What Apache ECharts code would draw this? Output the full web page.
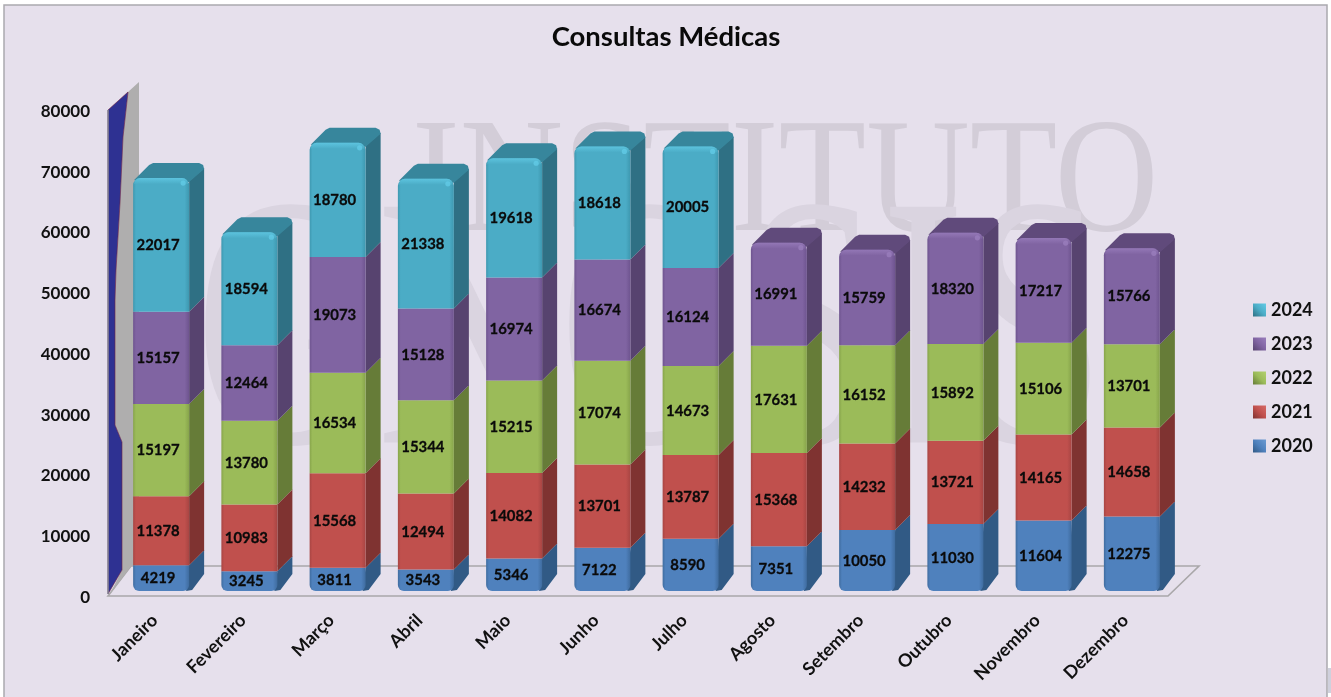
<!DOCTYPE html>
<html><head><meta charset="utf-8">
<style>html,body{margin:0;padding:0;background:#fff}#c{width:1331px;height:697px}</style>
<script src="https://cdn.jsdelivr.net/npm/echarts@6/dist/echarts.min.js"></script>
</head><body><div id="c"></div>
<script>
const months = ['Janeiro','Fevereiro','Março','Abril','Maio','Junho','Julho','Agosto','Setembro','Outubro','Novembro','Dezembro'];
const v2020 = [4219,3245,3811,3543,5346,7122,8590,7351,10050,11030,11604,12275];
const v2021 = [11378,10983,15568,12494,14082,13701,13787,15368,14232,13721,14165,14658];
const v2022 = [15197,13780,16534,15344,15215,17074,14673,17631,16152,15892,15106,13701];
const v2023 = [15157,12464,19073,15128,16974,16674,16124,16991,15759,18320,17217,15766];
const v2024 = [22017,18594,18780,21338,19618,18618,20005,null,null,null,null,null];
const yearNames = ['2020','2021','2022','2023','2024'];
const yearValues = [v2020,v2021,v2022,v2023,v2024];
const palette = [
  {front:'#4F81BD',dark:'#3F6C9F',side:'#315A85',top:'#3A6A9C',light:'#6C9BD2'},
  {front:'#C0504D',dark:'#A84543',side:'#7F3331',top:'#953B39',light:'#D66B68'},
  {front:'#9BBB59',dark:'#87A44B',side:'#667C38',top:'#76923C',light:'#B3D16F'},
  {front:'#8064A2',dark:'#6E548F',side:'#57436F',top:'#604A7B',light:'#9A7EBD'},
  {front:'#4BACC6',dark:'#3E98B0',side:'#2F7084',top:'#37869C',light:'#62CBE6'}
];
const DEPTH = 15, FRONT_W = 56;
const chart = echarts.init(document.getElementById('c'), null, {renderer:'canvas'});
const FONT = 'Lato, Carlito, "Open Sans", sans-serif';

function makeSeries(si){
  const data = months.map((m,i)=>{
    const v = yearValues[si][i];
    if (v == null) return [i,null,null,null,0];
    let base = 0;
    for (let k=0;k<si;k++) base += yearValues[k][i] || 0;
    const isTop = si === yearValues.length-1 || yearValues[si+1][i] == null;
    return [i,base,base+v,v,isTop?1:0];
  });
  const c = palette[si];
  return {
    type:'custom', name:yearNames[si], data, clip:false, silent:true,
    itemStyle:{color:c.front},
    encode:{x:0,y:[1,2]},
    z:5+si,
    renderItem(params,api){
      if (api.value(3) == null || isNaN(api.value(3))) return null;
      const p0 = api.coord([api.value(0),api.value(1)]);
      const p1 = api.coord([api.value(0),api.value(2)]);
      const isTop = api.value(4) === 1, isBottom = si === 0;
      const x = p0[0]-FRONT_W/2, r = x+FRONT_W, yb = p0[1], yt = p1[1], d = DEPTH;
      const ch = [];
      const sidePts = isBottom
        ? [[r,yt],[r+d,yt-d],[r+d,yb-d-2],[r+3,yb-1],[r-3,yb]]
        : [[r,yt],[r+d,yt-d],[r+d,yb-d],[r,yb]];
      if (isTop) { sidePts[0]=[r,yt+3]; sidePts[1]=[r+d,yt-d+5]; }
      ch.push({type:'polygon',shape:{points:sidePts},style:{fill:c.side}});
      if (isTop) {
        ch.push({type:'polygon',shape:{points:[[x+1,yt+2],[x+d+1,yt-d+2],[x+d+5,yt-d],[r+d-5,yt-d],[r+d-1,yt-d+2],[r+d,yt-d+6],[r,yt+4]]},style:{fill:c.top}});
      }
      ch.push({type:'rect',shape:{x,y:yt,width:FRONT_W,height:yb-yt,r:[isTop?7:0,isTop?7:0,isBottom?6:0,isBottom?6:0]},
        style:{fill:new echarts.graphic.LinearGradient(0,0,1,0,[
          {offset:0,color:c.dark},{offset:0.05,color:c.front},{offset:0.92,color:c.front},{offset:1,color:c.dark}])}});
      if (isTop) {
        ch.push({type:'rect',shape:{x:x+1,y:yt,width:FRONT_W-2,height:6,r:[6,6,0,0]},
          style:{opacity:.75,fill:new echarts.graphic.LinearGradient(0,0,0,1,[{offset:0,color:c.light},{offset:1,color:c.front}])}});
        ch.push({type:'circle',shape:{cx:r-6,cy:yt+5,r:2.6},style:{fill:c.light,opacity:.8}});
      }
      ch.push({type:'text',z2:20,x:p0[0]-3,y:(yb+yt)/2,scaleX:0.93,style:{text:String(api.value(3)),align:'center',verticalAlign:'middle',
        font:'bold 16px '+FONT,fill:'#0a0a0a',stroke:'#0a0a0a',lineWidth:0.3}});
      return {type:'group',children:ch};
    }
  };
}

chart.setOption({
  animation:false,
  backgroundColor:'#ffffff',
  title:{text:'Consultas Médicas',left:661,top:18,textAlign:'center',
    textStyle:{fontFamily:FONT,fontWeight:'bold',fontSize:27.5,color:'#0a0a0a'}},
  grid:{left:117,top:105,width:1059,height:486},
  xAxis:{type:'category',data:months,axisLine:{show:false},axisTick:{show:false},
    axisLabel:{rotate:45,margin:20,interval:0,padding:[0,9,0,0],fontFamily:FONT,fontWeight:'bold',fontSize:18,color:'#111'}},
  yAxis:{type:'value',min:0,max:80000,interval:10000,axisLine:{show:false},axisTick:{show:false},splitLine:{show:false},
    axisLabel:{margin:27,verticalAlign:'top',lineHeight:13,formatter:v=>String(v),fontFamily:FONT,fontWeight:'bold',fontSize:17,color:'#111'}},
  legend:{orient:'vertical',left:1248,top:296,itemWidth:13,itemHeight:13,itemGap:16,icon:'rect',
    textStyle:{fontFamily:FONT,fontWeight:'bold',fontSize:18,color:'#111'},
    data:yearNames.slice().reverse().map(n=>{
      const c = palette[yearNames.indexOf(n)];
      return {name:n,itemStyle:{color:new echarts.graphic.LinearGradient(0,1,1,0,[{offset:0,color:c.side},{offset:.5,color:c.front},{offset:1,color:c.light}])}};
    })},
  graphic:[
    {type:'rect',z:-11,shape:{x:1328,y:668,width:3,height:25},style:{fill:'#CFD0DC'}},
    {type:'rect',z:-10,shape:{x:4,y:5,width:1323,height:700},style:{fill:'#E6E0EC',stroke:'#ABA9AE',lineWidth:1.5}},
    {type:'text',z:-9,x:412,y:269,scaleX:0.88,style:{text:'INSTITUTO',font:'163px "Liberation Serif"',fill:'#D3CDD8',textVerticalAlign:'bottom'}},
    {type:'text',z:-9,x:195,y:528,scaleX:0.7,style:{text:'GNOSIS',font:'360px "Liberation Serif"',fill:'#DAD4E0',textVerticalAlign:'bottom'}},
    {type:'polygon',z:-5,shape:{points:[[108,596],[131,566],[1199,566],[1168,596]]},style:{fill:'#E6E0EC',stroke:'#A9A7A9',lineWidth:1.6}},
    {type:'polygon',z:-4,shape:{points:[[128,92],[139,82],[139,566],[131,566],[110,594],[122,570],[122,442],[115,425],[115,300],[116,270],[120,203],[123,137]]},style:{fill:'#AFAEAE'}},
    {type:'polygon',z:-3,shape:{points:[[108,110],[128,92],[123,137],[120,203],[116,270],[115,300],[115,425],[122,442],[122,570],[108,594]]},style:{fill:'#2E3192',stroke:'#6E2140',lineWidth:0.6}},
    {type:'polyline',z:-3,shape:{points:[[108,594],[108,110]]},style:{stroke:'#8A8A9A',lineWidth:1.5}}
  ],
  series:yearNames.map((n,i)=>makeSeries(i))
});
</script></body></html>
